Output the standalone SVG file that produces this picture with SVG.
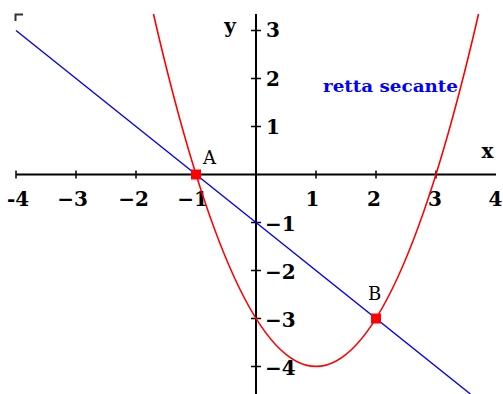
<svg xmlns="http://www.w3.org/2000/svg" width="503" height="394" viewBox="0 0 503 394">
<style>
.ax{stroke:#000;stroke-width:2;fill:none}
.tk{stroke:#000;stroke-width:1.5}
.num{font-family:"DejaVu Serif",serif;font-weight:bold;font-size:20px;fill:#000}
.lbl{font-family:"DejaVu Serif",serif;font-size:18px;fill:#000}
.pt{fill:#ff0000}
</style>
<defs>
<clipPath id="plot"><rect x="0" y="14" width="503" height="380"/></clipPath>
</defs>
<rect width="503" height="394" fill="#fff"/>
<path d="M15.5,21 V14.5 H23" stroke="#333" stroke-width="2" fill="none"/>
<g id="axes">
<line class="ax" x1="16" y1="174.5" x2="496" y2="174.5"/>
<line class="ax" x1="256" y1="14" x2="256" y2="394"/>
<g id="xticks">
<line class="tk" x1="16" y1="170.5" x2="16" y2="178.5"/>
<line class="tk" x1="76" y1="170.5" x2="76" y2="178.5"/>
<line class="tk" x1="136" y1="170.5" x2="136" y2="178.5"/>
<line class="tk" x1="196" y1="170.5" x2="196" y2="178.5"/>
<line class="tk" x1="316" y1="170.5" x2="316" y2="178.5"/>
<line class="tk" x1="376" y1="170.5" x2="376" y2="178.5"/>
<line class="tk" x1="436" y1="170.5" x2="436" y2="178.5"/>
</g>
<g id="yticks">
<line class="tk" x1="251" y1="30.5" x2="261" y2="30.5"/>
<line class="tk" x1="251" y1="78.5" x2="261" y2="78.5"/>
<line class="tk" x1="251" y1="126.5" x2="261" y2="126.5"/>
<line class="tk" x1="251" y1="222.5" x2="261" y2="222.5"/>
<line class="tk" x1="251" y1="270.5" x2="261" y2="270.5"/>
<line class="tk" x1="251" y1="318.5" x2="261" y2="318.5"/>
<line class="tk" x1="251" y1="366.5" x2="261" y2="366.5"/>
</g>
<g id="xlabels" class="num">
<text x="7" y="206">-4</text>
<text x="72.5" y="206" text-anchor="middle">−3</text>
<text x="133.5" y="206" text-anchor="middle">−2</text>
<text x="192.5" y="206" text-anchor="middle">−1</text>
<text x="312.5" y="206" text-anchor="middle">1</text>
<text x="374" y="206" text-anchor="middle">2</text>
<text x="435" y="206" text-anchor="middle">3</text>
<text x="495.5" y="206" text-anchor="middle">4</text>
</g>
<g id="ylabels" class="num">
<text x="266" y="37">3</text>
<text x="266" y="85.5">2</text>
<text x="266" y="133.5">1</text>
<text x="265" y="230.5">−1</text>
<text x="265" y="278.5">−2</text>
<text x="265" y="326.5">−3</text>
<text x="265" y="374.5">−4</text>
</g>
<text id="xname" class="num" x="487.5" y="158" text-anchor="middle">x</text>
<text id="yname" class="num" x="230" y="33" text-anchor="middle">y</text>
</g>
<g id="connectors" clip-path="url(#plot)">
<path id="parabola" d="M153.46,14 Q316,718.8 478.54,14" fill="none" stroke="#ff0000" stroke-width="1.6"/>
<line id="secant" x1="16" y1="30.5" x2="470.4" y2="394" stroke="#0000ff" stroke-width="1.4"/>
</g>
<g id="pointA">
<rect class="pt" x="191" y="169.5" width="10" height="10"/>
<text class="lbl" x="203" y="164">A</text>
</g>
<g id="pointB">
<rect class="pt" x="371" y="313.5" width="10" height="10"/>
<text class="lbl" x="368" y="300">B</text>
</g>
<text id="secant-label" x="323" y="91.5" font-family="DejaVu Serif, serif" font-weight="bold" font-size="17" fill="#0000ff" textLength="135" lengthAdjust="spacingAndGlyphs">retta secante</text>
</svg>
